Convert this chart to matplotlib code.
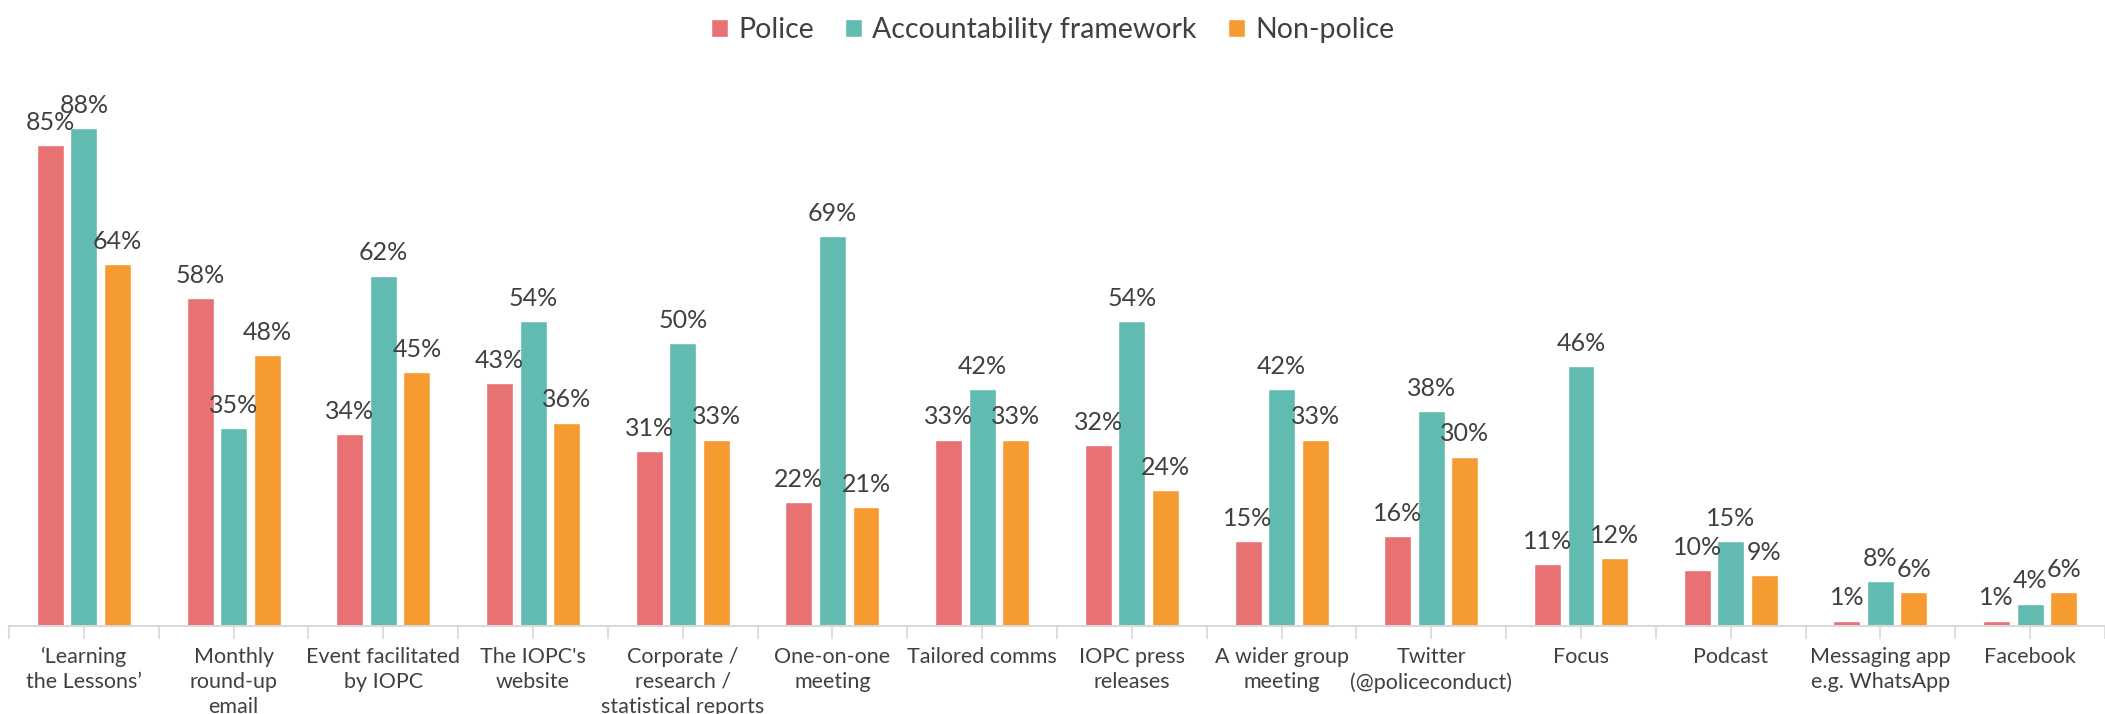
import numpy as np
import matplotlib.pyplot as plt

plt.rcParams['font.family'] = ['Lato', 'DejaVu Sans']

# channel labels and percentages
categories = ["\u2018Learning\nthe Lessons\u2019", "Monthly\nround-up\nemail", "Event facilitated\nby IOPC",
              "The IOPC's\nwebsite", "Corporate /\nresearch /\nstatistical reports", "One-on-one\nmeeting",
              "Tailored comms", "IOPC press\nreleases", "A wider group\nmeeting", "Twitter\n(@policeconduct)",
              "Focus", "Podcast", "Messaging app\ne.g. WhatsApp", "Facebook"]
police = [85, 58, 34, 43, 31, 22, 33, 32, 15, 16, 11, 10, 1, 1]
accountability = [88, 35, 62, 54, 50, 69, 42, 54, 42, 38, 46, 15, 8, 4]
non_police = [64, 48, 45, 36, 33, 21, 33, 24, 33, 30, 12, 9, 6, 6]

series = [("Police", police, "#E87173"),
          ("Accountability framework", accountability, "#62BBB0"),
          ("Non-police", non_police, "#F59B32")]

txt = "#404040"
fig = plt.figure(figsize=(21.05, 7.14), dpi=100)
ax = fig.add_axes([0.0043, 0.123, 0.9957, 0.80])

x = np.arange(len(categories))
w = 0.18
step = 0.224
for i, (name, vals, col) in enumerate(series):
    pos = x + (i - 1) * step
    bars = ax.bar(pos, vals, w, color=col, edgecolor="white", linewidth=1, label=name)
    for p, v in zip(pos, vals):
        ax.annotate(f"{v}%", (p, v), xytext=(0, 8), textcoords="offset points",
                    ha="center", va="bottom", fontsize=18, color=txt)

ax.set_xlim(-0.5, len(categories) - 0.5)
ax.set_ylim(0, 101)
ax.set_xticks(x)
ax.set_xticklabels(categories, fontsize=15.5, color=txt, linespacing=1.3, va="top")
ax.set_xticks(np.arange(len(categories) + 1) - 0.5, minor=True)
ax.tick_params(axis="x", which="both", length=9, color="#D9D9D9", width=1.2, pad=6)
ax.set_yticks([])
for s in ["top", "right", "left"]:
    ax.spines[s].set_visible(False)
ax.spines["bottom"].set_color("#D9D9D9")
ax.spines["bottom"].set_linewidth(1.5)

fig.legend(loc="upper center", bbox_to_anchor=(0.5, 1.012), ncol=3, frameon=False,
           fontsize=20.5, handlelength=0.6, handleheight=0.6, handletextpad=0.35,
           columnspacing=1.1, labelcolor=txt)

fig.savefig("out.png", dpi=100)
